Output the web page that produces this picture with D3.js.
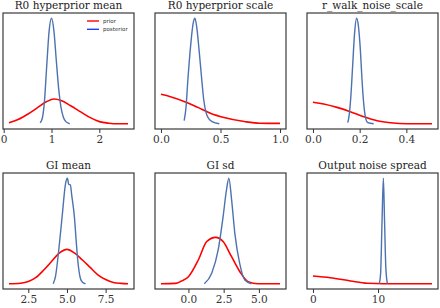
<!DOCTYPE html>
<html>
<head>
<meta charset="utf-8">
<script src="https://cdn.jsdelivr.net/npm/d3@7"></script>
<style>
  html, body { margin: 0; padding: 0; background: #ffffff; }
  svg { display: block; }
</style>
</head>
<body>
<svg id="chart" width="440" height="308"></svg>
<script>
// ---------------- data ----------------
const panelTitles = ["R0 hyperprior mean", "R0 hyperprior scale", "r_walk_noise_scale",
                     "GI mean", "GI sd", "Output noise spread"];

const tickValues = [
  [0, 1, 2],
  [0.0, 0.5, 1.0],
  [0.0, 0.2, 0.4],
  [2.5, 5.0, 7.5],
  [0.0, 2.5, 5.0],
  [0, 10]
];
const tickFormats = ["d", ".1f", ".1f", ".1f", ".1f", "d"];

// [x, density] pairs (density in relative units)
const r0MeanPrior = [[0.11,0.01],[0.3,0.04],[0.5,0.09],[0.7,0.15],[0.9,0.21],[1.05,0.234],[1.2,0.22],
  [1.4,0.17],[1.6,0.115],[1.8,0.06],[2.0,0.02],[2.2,0.005],[2.4,0.0],[2.6,0.0]];
const r0MeanPost = [[0.76,0.01],[0.8,0.04],[0.85,0.2],[0.9,0.55],[0.95,0.88],[1.0,1.0],[1.05,0.88],
  [1.1,0.6],[1.15,0.33],[1.2,0.15],[1.25,0.06],[1.3,0.02],[1.38,0.0]];

const r0ScalePrior = [[0.0,0.279],[0.08,0.256],[0.2,0.209],[0.31,0.155],[0.42,0.098],[0.53,0.06],
  [0.7,0.021],[0.83,0.004],[1.0,0.003]];
const r0ScalePost = [[0.195,0.03],[0.21,0.15],[0.225,0.4],[0.25,0.75],[0.27,0.95],[0.285,1.0],[0.3,0.92],
  [0.32,0.7],[0.34,0.45],[0.36,0.22],[0.38,0.1],[0.4,0.05],[0.43,0.02],[0.49,0.0]];

const rWalkPrior = [[0.0,0.203],[0.046,0.187],[0.103,0.155],[0.16,0.114],[0.218,0.066],[0.275,0.029],
  [0.332,0.01],[0.404,0.0],[0.51,0.0]];
const rWalkPost = [[0.149,0.01],[0.155,0.08],[0.162,0.25],[0.17,0.55],[0.178,0.85],[0.187,1.0],[0.195,0.92],
  [0.203,0.7],[0.21,0.42],[0.217,0.2],[0.225,0.06],[0.235,0.01],[0.26,0.0]];

const giMeanPrior = [[1.25,0.0],[2.0,0.005],[2.5,0.02],[3.0,0.06],[3.5,0.13],[4.0,0.21],[4.5,0.29],
  [5.0,0.326],[5.5,0.29],[6.0,0.225],[6.5,0.155],[7.0,0.085],[7.5,0.04],[8.0,0.012],[8.5,0.003],[8.95,0.0]];
const giMeanPost = [[4.11,0.0],[4.26,0.07],[4.47,0.32],[4.69,0.64],[4.91,0.95],[5.03,1.0],[5.12,0.94],
  [5.22,0.94],[5.3,0.85],[5.49,0.62],[5.6,0.4],[5.7,0.22],[5.87,0.05],[6.0,0.015],[6.2,0.0]];

const giSdPrior = [[-1.95,0.0],[-0.94,0.003],[-0.5,0.025],[0.0,0.066],[0.7,0.225],[1.3,0.4],[1.93,0.44],
  [2.46,0.4],[3.06,0.256],[3.65,0.114],[4.23,0.02],[4.93,0.0],[6.5,0.0]];
const giSdPost = [[1.13,0.0],[1.65,0.1],[2.11,0.32],[2.46,0.636],[2.7,0.89],[2.87,1.0],[3.06,0.8],
  [3.29,0.48],[3.64,0.19],[4.0,0.035],[4.46,0.0]];

const noisePrior = [[0.0,0.073],[2.67,0.057],[5.77,0.026],[8.35,0.004],[10.9,0.0],[18.3,0.0]];
const noisePost = [[10.2,0.0],[10.4,0.1],[10.6,0.55],[10.82,1.0],[11.0,0.6],[11.2,0.15],[11.44,0.0]];

const priorSeries = [r0MeanPrior, r0ScalePrior, rWalkPrior, giMeanPrior, giSdPrior, noisePrior];
const posteriorSeries = [r0MeanPost, r0ScalePost, rWalkPost, giMeanPost, giSdPost, noisePost];
const legendLabels = ["prior", "posterior"];

// ---------------- layout ----------------
const svg = d3.select("#chart");
const colLefts = [3, 155, 307];
const rowTops = [13, 173];
const pw = 131, ph = 116;
const priorColor = "#ff0000";
const postColor = "#4c72b0";
const serif = "'DejaVu Serif', serif";

panelTitles.forEach((title, i) => {
  const col = i % 3, row = Math.floor(i / 3);
  const g = svg.append("g").attr("transform", `translate(${colLefts[col]},${rowTops[row]})`);
  const prior = priorSeries[i], post = posteriorSeries[i];
  const all = prior.concat(post);
  const xe = d3.extent(all, d => d[0]);
  const xm = (xe[1] - xe[0]) * 0.05;
  const ymax = d3.max(all, d => d[1]);
  const ym = ymax * 0.05;
  const x = d3.scaleLinear().domain([xe[0] - xm, xe[1] + xm]).range([0, pw]);
  const y = d3.scaleLinear().domain([-ym, ymax + ym]).range([ph, 0]);

  const clipId = "clip" + i;
  g.append("clipPath").attr("id", clipId).append("rect").attr("width", pw).attr("height", ph);

  const line = d3.line().x(d => x(d[0])).y(d => y(d[1])).curve(d3.curveMonotoneX);
  const plot = g.append("g").attr("clip-path", `url(#${clipId})`);
  plot.append("path").datum(prior).attr("d", line)
    .attr("fill", "none").attr("stroke", priorColor).attr("stroke-width", 1.6);
  plot.append("path").datum(post).attr("d", line)
    .attr("fill", "none").attr("stroke", postColor).attr("stroke-width", 1.4);

  // frame
  g.append("rect").attr("width", pw).attr("height", ph)
    .attr("fill", "none").attr("stroke", "#3a3a3a").attr("stroke-width", 1.2);

  // x axis
  const ax = g.append("g").attr("transform", `translate(0,${ph})`)
    .call(d3.axisBottom(x).tickValues(tickValues[i]).tickFormat(d3.format(tickFormats[i]))
      .tickSize(4).tickPadding(3));
  ax.select(".domain").remove();
  ax.selectAll(".tick line").attr("stroke", "#333").attr("stroke-width", 1);
  ax.selectAll(".tick text").attr("font-family", serif).attr("font-size", 10.5).attr("fill", "#333");

  // title
  g.append("text").attr("x", pw / 2).attr("y", -4).attr("text-anchor", "middle")
    .attr("font-family", serif).attr("font-size", 10.5).attr("fill", "#222").text(title);

  // legend in first panel
  if (i === 0) {
    const lg = g.append("g");
    [priorColor, "#1f3fff"].forEach((c, k) => {
      const yy = 8 + k * 8.3;
      lg.append("line").attr("x1", 84).attr("x2", 96).attr("y1", yy).attr("y2", yy)
        .attr("stroke", c).attr("stroke-width", 1.4);
      lg.append("text").attr("x", 100).attr("y", yy + 2).attr("font-family", "'DejaVu Sans', sans-serif")
        .attr("font-size", 5.5).attr("fill", "#333").text(legendLabels[k]);
    });
  }
});
</script>
</body>
</html>
